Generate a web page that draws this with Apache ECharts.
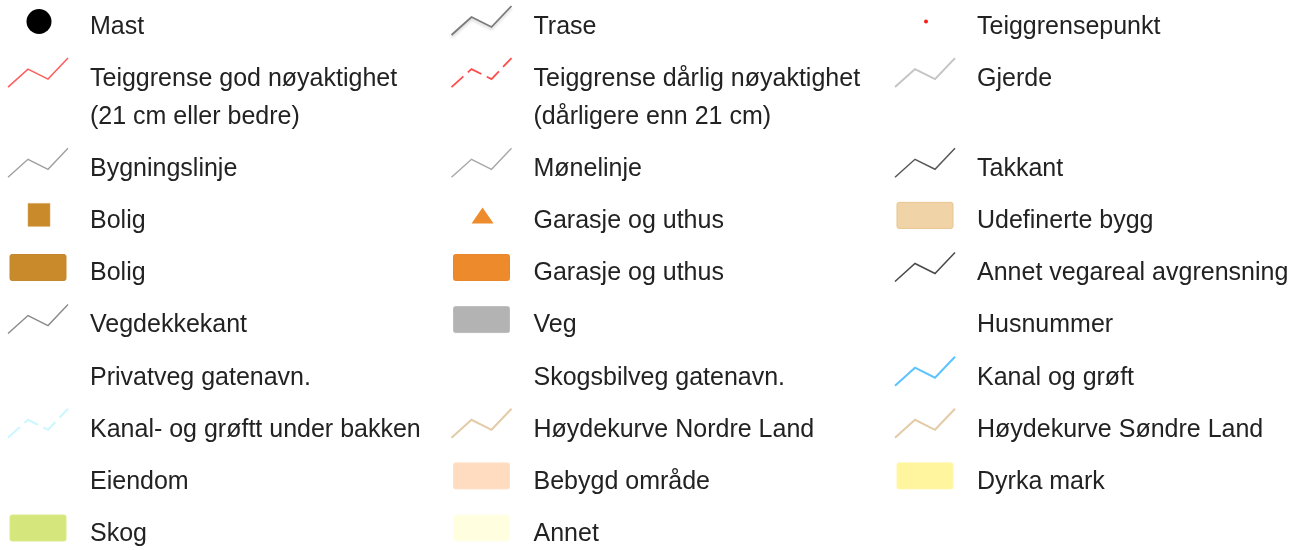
<!DOCTYPE html>
<html>
<head>
<meta charset="utf-8">
<script src="https://cdn.jsdelivr.net/npm/echarts@6/dist/echarts.min.js"></script>
<style>
  html, body { margin: 0; padding: 0; background: #fff; }
  #main { width: 1304px; height: 550px; }
</style>
</head>
<body>
<div id="main"></div>
<script>
// legend entries, read row by row (3 columns)
var labels = [
  'Mast', 'Trase', 'Teiggrensepunkt',
  'Teiggrense god nøyaktighet\n(21 cm eller bedre)', 'Teiggrense dårlig nøyaktighet\n(dårligere enn 21 cm)', 'Gjerde',
  'Bygningslinje', 'Mønelinje', 'Takkant',
  'Bolig', 'Garasje og uthus', 'Udefinerte bygg',
  'Bolig', 'Garasje og uthus', 'Annet vegareal avgrensning',
  'Vegdekkekant', 'Veg', 'Husnummer',
  'Privatveg gatenavn.', 'Skogsbilveg gatenavn.', 'Kanal og grøft',
  'Kanal- og grøftt under bakken', 'Høydekurve Nordre Land', 'Høydekurve Søndre Land',
  'Eiendom', 'Bebygd område', 'Dyrka mark',
  'Skog', 'Annet'
];

var kinds = [
  'mast', 'trase', 'teigpunkt',
  'teigGod', 'teigDarlig', 'gjerde',
  'bygningslinje', 'monelinje', 'takkant',
  'boligPunkt', 'garasjePunkt', 'udefinert',
  'boligFlate', 'garasjeFlate', 'vegareal',
  'vegdekke', 'veg', 'none',
  'none', 'none', 'kanal',
  'kanalBakke', 'hoydeNordre', 'hoydeSondre',
  'none', 'bebygd', 'dyrka',
  'skog', 'annet'
];

var COLS = 3;

// looks of each symbol
var styles = {
  mast:         { shape: 'circle', fill: '#000', r: 12.5 },
  trase:        { shape: 'line', stroke: '#7a7a7a', width: 1.8, shadow: true },
  teigpunkt:    { shape: 'circle', fill: '#ff1a1a', r: 2 },
  teigGod:      { shape: 'line', stroke: '#ff5c5c', width: 1.5 },
  teigDarlig:   { shape: 'line', stroke: '#ff4d4d', width: 1.8, dash: [16, 6] },
  gjerde:       { shape: 'line', stroke: '#c4c4c4', width: 2 },
  bygningslinje:{ shape: 'line', stroke: '#a0a0a0', width: 1.4 },
  monelinje:    { shape: 'line', stroke: '#a8a8a8', width: 1.4 },
  takkant:      { shape: 'line', stroke: '#585858', width: 1.5 },
  boligPunkt:   { shape: 'square', fill: '#c98a2b' },
  garasjePunkt: { shape: 'triangle', fill: '#ed8b2d' },
  udefinert:    { shape: 'box', fill: '#f0d3a6', stroke: '#e9c48f' },
  boligFlate:   { shape: 'box', fill: '#c98a2b', stroke: '#c3872f' },
  garasjeFlate: { shape: 'box', fill: '#ed8a2b', stroke: '#e8872d' },
  vegareal:     { shape: 'line', stroke: '#4a4a4a', width: 1.5 },
  vegdekke:     { shape: 'line', stroke: '#8a8a8a', width: 1.4 },
  veg:          { shape: 'box', fill: '#b3b3b3', stroke: '#bdbdbd' },
  kanal:        { shape: 'line', stroke: '#5cc3ff', width: 2 },
  kanalBakke:   { shape: 'line', stroke: '#cdf7ff', width: 2, dash: [16, 6] },
  hoydeNordre:  { shape: 'line', stroke: '#e3cba8', width: 2 },
  hoydeSondre:  { shape: 'line', stroke: '#e3cba8', width: 2 },
  bebygd:       { shape: 'box', fill: '#ffdcc0', stroke: '#ffe0c8' },
  dyrka:        { shape: 'box', fill: '#fff59f', stroke: '#fff6a8' },
  skog:         { shape: 'box', fill: '#d5e67c', stroke: '#dbe98a' },
  annet:        { shape: 'box', fill: '#ffffe0', stroke: '#fffff0' },
  none:         { shape: 'none' }
};

var ROW_H = 52;
var LINE_H = 38;
var zig = [[-30, 10], [-10, -8], [10, 2], [30, -19]];

// slot (in row units) for each row, extra text lines push following rows down
var rowCount = Math.ceil(labels.length / COLS);
var rowSlot = [];
var acc = 0;
for (var r = 0; r < rowCount; r++) {
  rowSlot.push(acc);
  var lines = 1;
  for (var c = 0; c < COLS; c++) {
    var l = labels[r * COLS + c];
    if (l) lines = Math.max(lines, l.split('\n').length);
  }
  acc += 1 + (lines - 1) * LINE_H / ROW_H;
}
var lastSlot = rowSlot[rowCount - 1];

var items = labels.map(function (name, i) {
  return [i % COLS, rowSlot[Math.floor(i / COLS)], i];
});

function renderItem(params, api) {
  var i = api.value(2);
  var p = api.coord([api.value(0), api.value(1)]);
  var cx = p[0], cy = p[1];
  var st = styles[kinds[i]];
  var kids = [];

  if (st.shape === 'line') {
    var pts = zig.map(function (d) { return [cx + d[0], cy + d[1]]; });
    var ls = { stroke: st.stroke, lineWidth: st.width, fill: null, lineDash: st.dash || null, lineJoin: 'miter' };
    if (st.shadow) {
      ls.shadowColor = 'rgba(0,0,0,0.2)';
      ls.shadowBlur = 3;
      ls.shadowOffsetY = 2;
    }
    kids.push({ type: 'polyline', shape: { points: pts }, style: ls });
  } else if (st.shape === 'circle') {
    kids.push({ type: 'circle', shape: { cx: cx + 1, cy: cy - 3.5, r: st.r }, style: { fill: st.fill } });
  } else if (st.shape === 'square') {
    kids.push({ type: 'rect', shape: { x: cx - 10, y: cy - 16, width: 22, height: 23 }, style: { fill: st.fill, stroke: '#d9a45a', lineWidth: 0.5 } });
  } else if (st.shape === 'triangle') {
    kids.push({ type: 'polygon', shape: { points: [[cx + 1, cy - 12], [cx + 12, cy + 4], [cx - 10, cy + 4]] }, style: { fill: st.fill } });
  } else if (st.shape === 'box') {
    kids.push({ type: 'rect', shape: { x: cx - 28, y: cy - 17, width: 56, height: 26, r: 2 }, style: { fill: st.fill, stroke: st.stroke, lineWidth: 1 } });
  }

  kids.push({
    type: 'text',
    style: {
      text: labels[i],
      x: cx + 52,
      y: cy - LINE_H / 2 + 2,
      fill: '#222',
      fontSize: 25,
      fontFamily: 'Liberation Sans',
      lineHeight: LINE_H,
      verticalAlign: 'top',
      align: 'left'
    }
  });
  return { type: 'group', children: kids };
}

var chart = echarts.init(document.getElementById('main'), null, { renderer: 'canvas' });
chart.setOption({
  animation: false,
  backgroundColor: '#fff',
  grid: { left: 38, right: 379, top: 25, bottom: 18 },
  xAxis: { type: 'value', min: 0, max: COLS - 1, show: false },
  yAxis: { type: 'value', min: 0, max: lastSlot, inverse: true, show: false },
  series: [{
    type: 'custom',
    renderItem: renderItem,
    clip: false,
    data: items
  }]
});
</script>
</body>
</html>
